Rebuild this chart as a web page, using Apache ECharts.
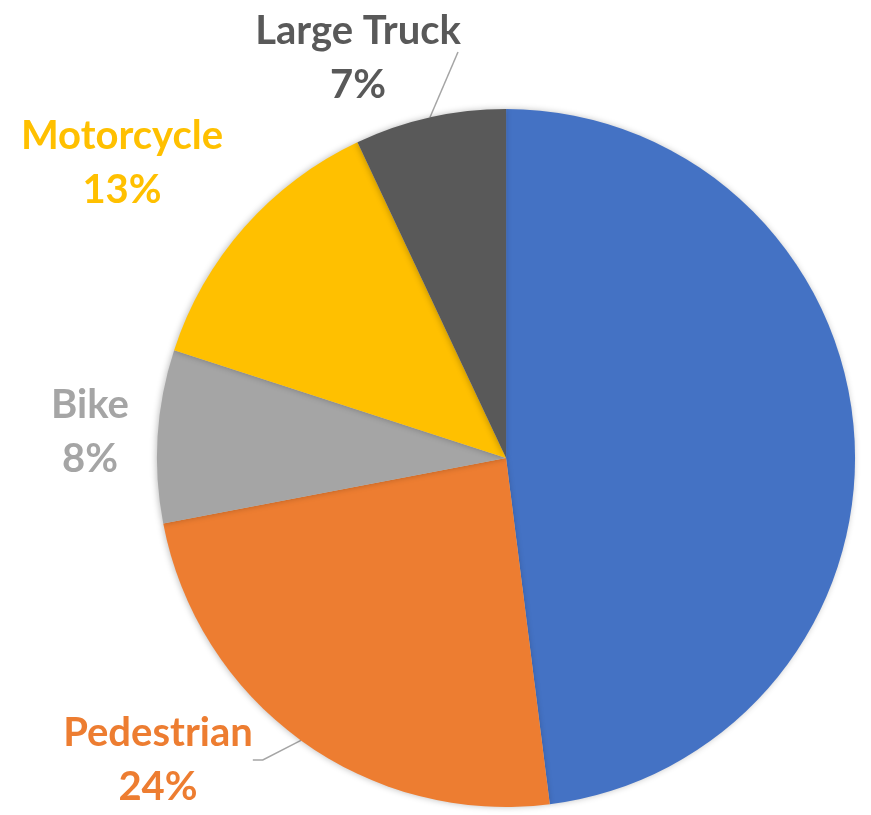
<!DOCTYPE html>
<html>
<head>
<meta charset="utf-8">
<style>
  html, body { margin: 0; padding: 0; background: #fff; }
  #chart { width: 871px; height: 815px; }
</style>
<script src="https://cdn.jsdelivr.net/npm/echarts@6/dist/echarts.min.js"></script>
</head>
<body>
<div id="chart"></div>
<script>
// slices, clockwise from 12 o'clock
var categories = ['Car', 'Pedestrian', 'Bike', 'Motorcycle', 'Large Truck'];
var shares = [48, 24, 8, 13, 7];
var colors = ['#4472C4', '#ED7D31', '#A5A5A5', '#FFC000', '#595959'];
var showLabel = [false, true, true, true, true];
var showLine = [false, true, false, false, true];

// where the label boxes sit (centre, px), like the original layout
var labelPos = [null, [158, 760], [90, 432], [122, 163], [358, 58]];

var chart = echarts.init(document.getElementById('chart'));

var data = categories.map(function (name, i) {
    return {
        value: shares[i],
        name: name,
        itemStyle: { color: colors[i] },
        label: { show: showLabel[i], color: colors[i] },
        labelLine: { show: showLine[i] }
    };
});

var option = {
    animation: false,
    series: [{
        type: 'pie',
        center: ['58.1%', '56.2%'],
        radius: [0, 349],
        startAngle: 90,
        clockwise: true,
        avoidLabelOverlap: false,
        itemStyle: {
            shadowBlur: 6,
            shadowColor: 'rgba(0,0,0,0.25)',
            shadowOffsetX: -1
        },
        label: {
            position: 'outside',
            formatter: '{b}\n{d}%',
            fontFamily: 'Lato',
            fontWeight: 'bold',
            fontSize: 40,
            lineHeight: 54,
            align: 'center'
        },
        labelLine: {
            length: 20,
            length2: 10,
            lineStyle: { color: '#A5A5A5', width: 1.5 }
        },
        labelLayout: function (params) {
            var p = labelPos[params.dataIndex];
            if (!p) return {};
            var res = { x: p[0], y: p[1], align: 'center', verticalAlign: 'middle' };
            // the truck's leader runs straight up to the label's lower right
            if (params.dataIndex === 4 && params.labelLinePoints) {
                res.labelLinePoints = [params.labelLinePoints[0], [p[0] + 100, p[1] - 6]];
            }
            return res;
        },
        data: data
    }]
};
chart.setOption(option);
</script>
</body>
</html>
